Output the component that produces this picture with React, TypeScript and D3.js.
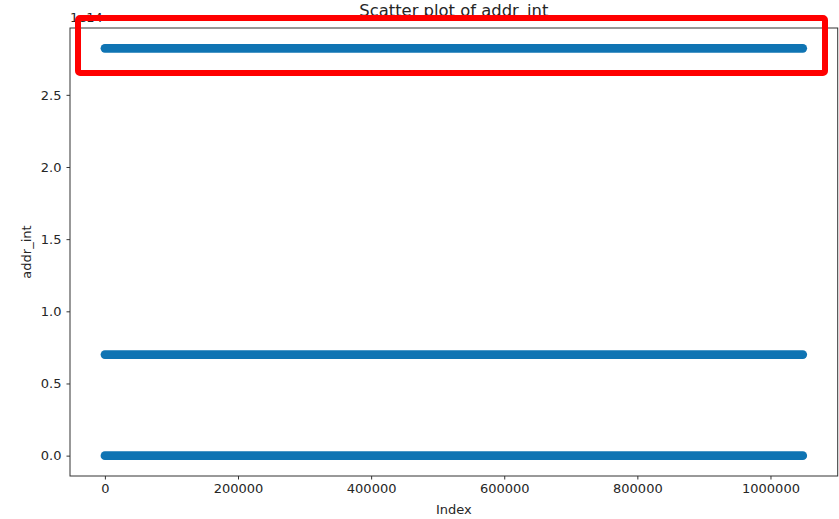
import * as d3 from 'd3';
import React, { useEffect, useRef } from 'react';

// the three address levels that the scatter collapses into (values of addr_int)
const levelNames = ['low', 'mid', 'high'];
const levelValues = [0, 0.70e14, 2.822e14];
// every level is filled from the first row to the last one
const indexStart = [0, 0, 0];
const indexEnd = [1048575, 1048575, 1048575];

const xTicks = [0, 200000, 400000, 600000, 800000, 1000000];
const yTicks = [0, 0.5e14, 1.0e14, 1.5e14, 2.0e14, 2.5e14];

const W = 839, H = 519;
const margin = { top: 28, right: 1.3, bottom: 43, left: 70 };
const font = '"DejaVu Sans", sans-serif';
const blue = '#0f74b3';

const App = () => {
  const ref = useRef<SVGSVGElement | null>(null);

  useEffect(() => {
    const svg = d3.select(ref.current);
    svg.selectAll('*').remove();

    const width = W - margin.left - margin.right;
    const height = H - margin.top - margin.bottom;

    const xMax = d3.max(indexEnd) as number;
    const xMin = d3.min(indexStart) as number;
    const xPad = (xMax - xMin) * 0.05;
    const yMax = d3.max(levelValues) as number;
    const yMin = d3.min(levelValues) as number;
    const yPad = (yMax - yMin) * 0.05;

    const x = d3.scaleLinear().domain([xMin - xPad, xMax + xPad]).range([0, width]);
    const y = d3.scaleLinear().domain([yMin - yPad, yMax + yPad]).range([height, 0]);

    const g = svg.append('g').attr('transform', `translate(${margin.left},${margin.top})`);

    // dense scatter bands: markers overlap into one solid stroke with round ends
    g.append('g')
      .selectAll('line')
      .data(levelNames)
      .join('line')
      .attr('x1', (d, i) => x(indexStart[i]))
      .attr('x2', (d, i) => x(indexEnd[i]))
      .attr('y1', (d, i) => y(levelValues[i]))
      .attr('y2', (d, i) => y(levelValues[i]))
      .attr('stroke', blue)
      .attr('stroke-width', 8.6)
      .attr('stroke-linecap', 'round');

    const xAxis = g.append('g')
      .attr('transform', `translate(0,${height})`)
      .call(d3.axisBottom(x).tickValues(xTicks).tickFormat(d3.format('d')).tickSize(3.5).tickPadding(4));
    const yAxis = g.append('g')
      .call(d3.axisLeft(y).tickValues(yTicks).tickFormat(d => (+d / 1e14).toFixed(1)).tickSize(3.5).tickPadding(5));

    [xAxis, yAxis].forEach(a => {
      a.select('.domain').remove();
      a.selectAll('.tick line').attr('stroke', '#333').attr('stroke-width', 1);
      a.selectAll('.tick text').attr('fill', '#262626').attr('font-size', 13).attr('font-family', font);
    });

    // frame
    g.append('rect')
      .attr('x', 0).attr('y', 0)
      .attr('width', width).attr('height', height)
      .attr('fill', 'none')
      .attr('stroke', '#333')
      .attr('stroke-width', 1);

    svg.append('text')
      .attr('x', margin.left + width / 2).attr('y', 16)
      .attr('text-anchor', 'middle')
      .attr('font-family', font).attr('font-size', 16.4).attr('fill', '#262626')
      .text('Scatter plot of addr_int');

    svg.append('text')
      .attr('x', margin.left).attr('y', 22)
      .attr('font-family', font).attr('font-size', 13).attr('fill', '#262626')
      .text('1e14');

    svg.append('text')
      .attr('x', margin.left + width / 2).attr('y', 514)
      .attr('text-anchor', 'middle')
      .attr('font-family', font).attr('font-size', 13).attr('fill', '#262626')
      .text('Index');

    svg.append('text')
      .attr('transform', `translate(31,${margin.top + height / 2}) rotate(-90)`)
      .attr('text-anchor', 'middle')
      .attr('font-family', font).attr('font-size', 13).attr('fill', '#262626')
      .text('addr_int');

    // red highlight box around the top band
    svg.append('rect')
      .attr('x', 78).attr('y', 18)
      .attr('width', 747).attr('height', 55)
      .attr('rx', 2)
      .attr('fill', 'none')
      .attr('stroke', '#ff0000')
      .attr('stroke-width', 6);
  }, []);

  return (
    <svg ref={ref} width={W} height={H}
      style={{ position: 'absolute', left: 0, top: 0, background: '#fff' }} />
  );
};

export default App;
